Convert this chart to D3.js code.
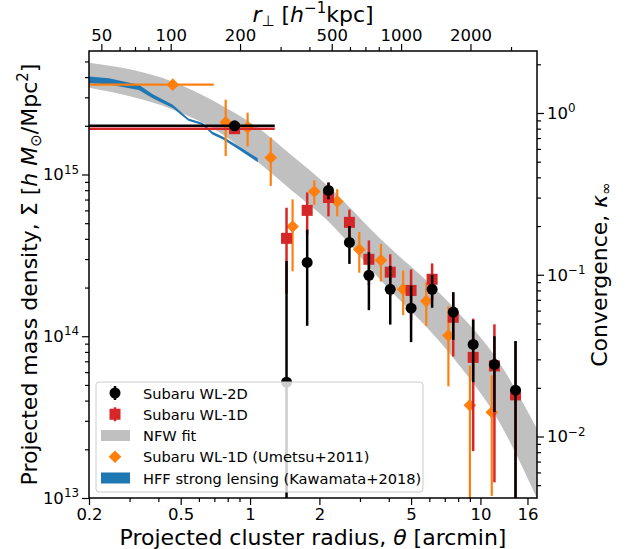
<!DOCTYPE html>
<html>
<head>
<meta charset="utf-8">
<script src="https://cdn.jsdelivr.net/npm/d3@7"></script>
<style>
  body { margin: 0; background: #fff; }
  svg { font-family: "DejaVu Sans", sans-serif; }
</style>
</head>
<body>
<div id="chart"></div>
<script>
// --- data ---
// Subaru WL-2D (black circles), theta in arcmin, Sigma in h Msun / Mpc^2
const wl2dTheta = [0.857, 1.44, 1.77, 2.19, 2.70, 3.28, 4.06, 5.00, 6.17, 7.62, 9.30, 11.5, 14.2];
const wl2dSigma = [2.00e15, 5.2e13, 2.86e14, 7.97e14, 3.80e14, 2.38e14, 1.95e14, 1.49e14, 1.95e14, 1.41e14, 8.9e13, 6.7e13, 4.64e13];
const wl2dErr = [0.1e15, 2.4e14, 1.7e14, 0.95e14, 1.0e14, 0.93e14, 0.77e14, 0.57e14, 0.45e14, 0.46e14, 3.7e13, 3.3e13, 4.7e13];

// Subaru WL-1D (red squares)
const wl1dTheta = [0.857, 1.44, 1.77, 2.19, 2.70, 3.28, 4.06, 5.00, 6.17, 7.62, 9.30, 11.5, 14.2];
const wl1dSigma = [1.92e15, 4.03e14, 6.0e14, 7.21e14, 5.06e14, 2.99e14, 2.49e14, 1.92e14, 2.25e14, 1.31e14, 7.4e13, 6.55e13, 4.34e13];
const wl1dErr = [0.1e15, 2.2e14, 1.74e14, 1.7e14, 1.0e14, 0.92e14, 0.72e14, 0.67e14, 0.57e14, 0.56e14, 5.45e13, 5.3e13, 4.96e13];

// inner aperture bin of the WL points (horizontal bar)
const wlInnerBin = [0, 1.28];

// Subaru WL-1D, Umetsu+2011 (orange diamonds)
const umeTheta = [0.462, 0.784, 0.976, 1.23, 1.53, 1.90, 2.39, 2.98, 3.70, 4.62, 5.82, 7.26, 9.0, 11.2];
const umeSigma = [3.59e15, 2.1e15, 1.95e15, 1.27e15, 4.77e14, 7.85e14, 6.81e14, 3.44e14, 2.95e14, 1.95e14, 1.65e14, 1.01e14, 3.74e13, 3.39e13];
const umeErr = [0.24e15, 0.8e15, 0.46e15, 0.42e15, 2.25e14, 1.35e14, 1.3e14, 0.97e14, 0.77e14, 0.6e14, 0.49e14, 0.52e14, 2.85e13, 2.36e13];
const umeInnerBin = [0, 0.696];

// NFW fit band
const nfwTheta = [0.2, 0.304, 0.462, 0.784, 1.08, 1.50, 2.19, 3.66, 7.4, 12.2, 17.6];
const nfwLo = [3.44e15, 3.03e15, 2.52e15, 1.72e15, 1.20e15, 8.08e14, 5.13e14, 2.25e14, 7.74e13, 2.87e13, 9.9e12];
const nfwHi = [4.91e15, 4.45e15, 3.75e15, 2.59e15, 1.95e15, 1.33e15, 8.43e14, 4.03e14, 1.58e14, 6.71e13, 2.67e13];

// HFF strong lensing band (Kawamata+2018)
const hffTheta = [0.2, 0.244, 0.329, 0.378, 0.462, 0.54, 0.62, 0.686, 0.76, 0.89, 1.08];
const hffLo = [3.68e15, 3.60e15, 3.33e15, 2.96e15, 2.58e15, 2.15e15, 2.02e15, 1.77e15, 1.65e15, 1.43e15, 1.19e15];
const hffHi = [4.04e15, 3.94e15, 3.59e15, 3.13e15, 2.70e15, 2.22e15, 2.09e15, 1.84e15, 1.72e15, 1.50e15, 1.26e15];

// ticks
const xMajor = [0.2, 0.5, 1, 2, 5, 10, 16];
const xMinor = [0.3, 0.4, 0.6, 0.7, 0.8, 0.9, 3, 4, 6, 7, 8, 9];
const rMajor = [50, 100, 200, 500, 1000, 2000];
const rMinor = [60, 70, 80, 90, 300, 400, 600, 700, 800, 900, 3000];
const yMajor = [1e13, 1e14, 1e15];
const kMajor = [1e-2, 1e-1, 1];

const kpcPerArcmin = 221; // h^-1 kpc per arcmin
const sigmaCrit = 2.4e15; // kappa = Sigma / sigmaCrit

const legendLabels = ['Subaru WL-2D', 'Subaru WL-1D', 'NFW fit', 'Subaru WL-1D (Umetsu+2011)', 'HFF strong lensing (Kawamata+2018)'];

// --- layout ---
const W = 625, H = 549;
const L = 89, R = 537, T = 51, B = 498;
const majorLen = 7, minorLen = 4;
const tickFont = 16.5, titleFont = 22, legendFont = 14.6;

const svg = d3.select('#chart').append('svg').attr('width', W).attr('height', H);

const x = d3.scaleLog().domain([0.2, 17.6]).range([L, R]);
const y = d3.scaleLog().domain([1e13, 5.8e15]).range([B, T]);
const xr = d3.scaleLog().domain([0.2 * kpcPerArcmin, 17.6 * kpcPerArcmin]).range([L, R]);
const yk = d3.scaleLog().domain([1e13 / sigmaCrit, 5.8e15 / sigmaCrit]).range([B, T]);

svg.append('defs').append('clipPath').attr('id', 'plotclip')
  .append('rect').attr('x', L).attr('y', T).attr('width', R - L).attr('height', B - T);

const plot = svg.append('g').attr('clip-path', 'url(#plotclip)');

// NFW band
const nfwData = nfwTheta.map((t, i) => ({ t, lo: nfwLo[i], hi: nfwHi[i] }));
plot.append('path')
  .datum(nfwData)
  .attr('d', d3.area().x(d => x(d.t)).y0(d => y(d.lo)).y1(d => y(d.hi)).curve(d3.curveMonotoneX))
  .attr('fill', '#c0c0c0');

// HFF band
const hffData = hffTheta.map((t, i) => ({ t, lo: hffLo[i], hi: hffHi[i] }));
plot.append('path')
  .datum(hffData)
  .attr('d', d3.area().x(d => x(d.t)).y0(d => y(d.lo)).y1(d => y(d.hi)))
  .attr('fill', '#1f77b4');

function yPix(v) {
  return v <= 0 ? B + 20 : y(v);
}

function errorBars(theta, sigma, err, color, width) {
  const g = plot.append('g');
  g.selectAll('line')
    .data(theta.map((t, i) => ({ t, v: sigma[i], e: err[i] })))
    .enter()
    .append('line')
    .attr('x1', d => x(d.t))
    .attr('x2', d => x(d.t))
    .attr('y1', d => yPix(d.v - d.e))
    .attr('y2', d => yPix(d.v + d.e))
    .attr('stroke', color)
    .attr('stroke-width', width);
  return g;
}

function xBar(bin, v, color, width) {
  plot.append('line')
    .attr('x1', bin[0] > 0 ? x(bin[0]) : L - 10)
    .attr('x2', x(bin[1]))
    .attr('y1', y(v)).attr('y2', y(v))
    .attr('stroke', color).attr('stroke-width', width);
}

const diamond = d3.symbol().type(d3.symbolSquare).size(80);

// Umetsu+2011
xBar(umeInnerBin, umeSigma[0], '#ff7f0e', 2.2);
errorBars(umeTheta, umeSigma, umeErr, '#ff7f0e', 2.2);
plot.append('g').selectAll('path')
  .data(umeTheta.map((t, i) => ({ t, v: umeSigma[i] })))
  .enter().append('path')
  .attr('d', diamond)
  .attr('transform', d => `translate(${x(d.t)},${y(d.v)}) rotate(45)`)
  .attr('fill', '#ff7f0e');

// WL-1D
xBar(wlInnerBin, wl1dSigma[0], '#d62728', 2.5);
errorBars(wl1dTheta, wl1dSigma, wl1dErr, '#d62728', 2.5);
plot.append('g').selectAll('rect')
  .data(wl1dTheta.map((t, i) => ({ t, v: wl1dSigma[i] })))
  .enter().append('rect')
  .attr('x', d => x(d.t) - 5.5)
  .attr('y', d => y(d.v) - 5.5)
  .attr('width', 11).attr('height', 11)
  .attr('fill', '#d62728');

// WL-2D
xBar(wlInnerBin, wl2dSigma[0], '#000', 2.5);
errorBars(wl2dTheta, wl2dSigma, wl2dErr, '#000', 2.5);
plot.append('g').selectAll('circle')
  .data(wl2dTheta.map((t, i) => ({ t, v: wl2dSigma[i] })))
  .enter().append('circle')
  .attr('cx', d => x(d.t))
  .attr('cy', d => y(d.v))
  .attr('r', 5.5)
  .attr('fill', '#000');

// --- axes ---
function styleAxis(g) {
  g.select('.domain').remove();
  g.selectAll('line').attr('stroke', '#000').attr('stroke-width', 1.2);
  g.selectAll('text').attr('font-size', tickFont).attr('fill', '#000')
    .attr('font-family', '"DejaVu Sans", sans-serif');
}

function powLabel(sel, base) {
  sel.selectAll('.tick text').each(function(d) {
    const e = Math.round(Math.log10(d));
    const t = d3.select(this).text(base);
    t.append('tspan').attr('dy', '-0.55em').attr('font-size', '0.72em').text(String(e).replace('-', '\u2212'));
  });
}

// bottom
svg.append('g').attr('transform', `translate(0,${B})`)
  .call(d3.axisBottom(x).tickValues(xMajor).tickFormat(d => d3.format('~g')(d)).tickSize(majorLen).tickPadding(3))
  .call(styleAxis);
svg.append('g').attr('transform', `translate(0,${B})`)
  .call(d3.axisBottom(x).tickValues(xMinor).tickFormat('').tickSize(minorLen))
  .call(styleAxis);

// top (physical radius)
svg.append('g').attr('transform', `translate(0,${T})`)
  .call(d3.axisTop(xr).tickValues(rMajor).tickFormat(d3.format('d')).tickSize(majorLen).tickPadding(3))
  .call(styleAxis);
svg.append('g').attr('transform', `translate(0,${T})`)
  .call(d3.axisTop(xr).tickValues(rMinor).tickFormat('').tickSize(minorLen))
  .call(styleAxis);

// left
const yMinor = y.ticks().filter(v => Math.abs(Math.log10(v) - Math.round(Math.log10(v))) > 1e-6);
svg.append('g').attr('transform', `translate(${L},0)`)
  .call(d3.axisLeft(y).tickValues(yMajor).tickSize(majorLen).tickPadding(3))
  .call(styleAxis)
  .call(g => powLabel(g, '10'));
svg.append('g').attr('transform', `translate(${L},0)`)
  .call(d3.axisLeft(y).tickValues(yMinor).tickFormat('').tickSize(minorLen))
  .call(styleAxis);

// right (convergence)
const kMinor = yk.ticks().filter(v => Math.abs(Math.log10(v) - Math.round(Math.log10(v))) > 1e-6);
svg.append('g').attr('transform', `translate(${R},0)`)
  .call(d3.axisRight(yk).tickValues(kMajor).tickSize(majorLen).tickPadding(3))
  .call(styleAxis)
  .call(g => powLabel(g, '10'));
svg.append('g').attr('transform', `translate(${R},0)`)
  .call(d3.axisRight(yk).tickValues(kMinor).tickFormat('').tickSize(minorLen))
  .call(styleAxis);

// frame
svg.append('rect')
  .attr('x', L).attr('y', T).attr('width', R - L).attr('height', B - T)
  .attr('fill', 'none').attr('stroke', '#000').attr('stroke-width', 1.5);

// --- axis titles ---
const subFont = 15;
const bottomTitle = svg.append('text')
  .attr('x', (L + R) / 2).attr('y', 545)
  .attr('text-anchor', 'middle').attr('font-size', titleFont);
bottomTitle.append('tspan').text('Projected cluster radius, ');
bottomTitle.append('tspan').attr('font-style', 'italic').text('\u03b8');
bottomTitle.append('tspan').text(' [arcmin]');

const topTitle = svg.append('text')
  .attr('x', (L + R) / 2).attr('y', 22)
  .attr('text-anchor', 'middle').attr('font-size', titleFont);
topTitle.append('tspan').attr('font-style', 'italic').text('r');
topTitle.append('tspan').attr('font-size', subFont).attr('dy', 4).text('\u22a5');
topTitle.append('tspan').attr('dy', -4).text('  [');
topTitle.append('tspan').attr('font-style', 'italic').text('h');
topTitle.append('tspan').attr('font-size', subFont).attr('dy', -9).text('\u22121');
topTitle.append('tspan').attr('dy', 9).text('kpc]');

const leftTitle = svg.append('text')
  .attr('transform', `translate(37,${(T + B) / 2}) rotate(-90)`)
  .attr('text-anchor', 'middle').attr('font-size', titleFont);
leftTitle.append('tspan').text('Projected mass density, \u03a3 [');
leftTitle.append('tspan').attr('font-style', 'italic').text('h M');
leftTitle.append('tspan').attr('font-size', subFont).attr('dy', 4).text('\u2299');
leftTitle.append('tspan').attr('dy', -4).text('/Mpc');
leftTitle.append('tspan').attr('font-size', subFont).attr('dy', -9).text('2');
leftTitle.append('tspan').attr('dy', 9).text(']');

const rightTitle = svg.append('text')
  .attr('transform', `translate(607,${(T + B) / 2}) rotate(-90)`)
  .attr('text-anchor', 'middle').attr('font-size', titleFont);
rightTitle.append('tspan').text('Convergence, ');
rightTitle.append('tspan').attr('font-style', 'italic').text('\u03ba');
rightTitle.append('tspan').attr('font-size', subFont).attr('dy', 4).text('\u221e');

// --- legend ---
const lg = svg.append('g');
lg.append('rect')
  .attr('x', 96).attr('y', 382).attr('width', 327).attr('height', 110)
  .attr('rx', 3)
  .attr('fill', '#fff').attr('fill-opacity', 0.8)
  .attr('stroke', '#cccccc').attr('stroke-width', 1);

const rowY = d3.scalePoint().domain(legendLabels).range([393, 478]);
const mx = 115;
legendLabels.forEach((lab, i) => {
  const cy = rowY(lab);
  const g = lg.append('g');
  if (i === 0) {
    g.append('line').attr('x1', mx).attr('x2', mx).attr('y1', cy - 7).attr('y2', cy + 7).attr('stroke', '#000').attr('stroke-width', 2.5);
    g.append('circle').attr('cx', mx).attr('cy', cy).attr('r', 5.5).attr('fill', '#000');
  } else if (i === 1) {
    g.append('line').attr('x1', mx).attr('x2', mx).attr('y1', cy - 7).attr('y2', cy + 7).attr('stroke', '#d62728').attr('stroke-width', 2.5);
    g.append('rect').attr('x', mx - 5.5).attr('y', cy - 5.5).attr('width', 11).attr('height', 11).attr('fill', '#d62728');
  } else if (i === 2) {
    g.append('rect').attr('x', 101).attr('y', cy - 5.5).attr('width', 29).attr('height', 11).attr('fill', '#c0c0c0');
  } else if (i === 3) {
    g.append('path').attr('d', diamond).attr('transform', `translate(${mx},${cy}) rotate(45)`).attr('fill', '#ff7f0e');
  } else {
    g.append('rect').attr('x', 101).attr('y', cy - 5.5).attr('width', 29).attr('height', 11).attr('fill', '#1f77b4');
  }
  lg.append('text').attr('x', 143).attr('y', cy + 5.5).attr('font-size', legendFont).text(lab);
});
</script>
</body>
</html>
